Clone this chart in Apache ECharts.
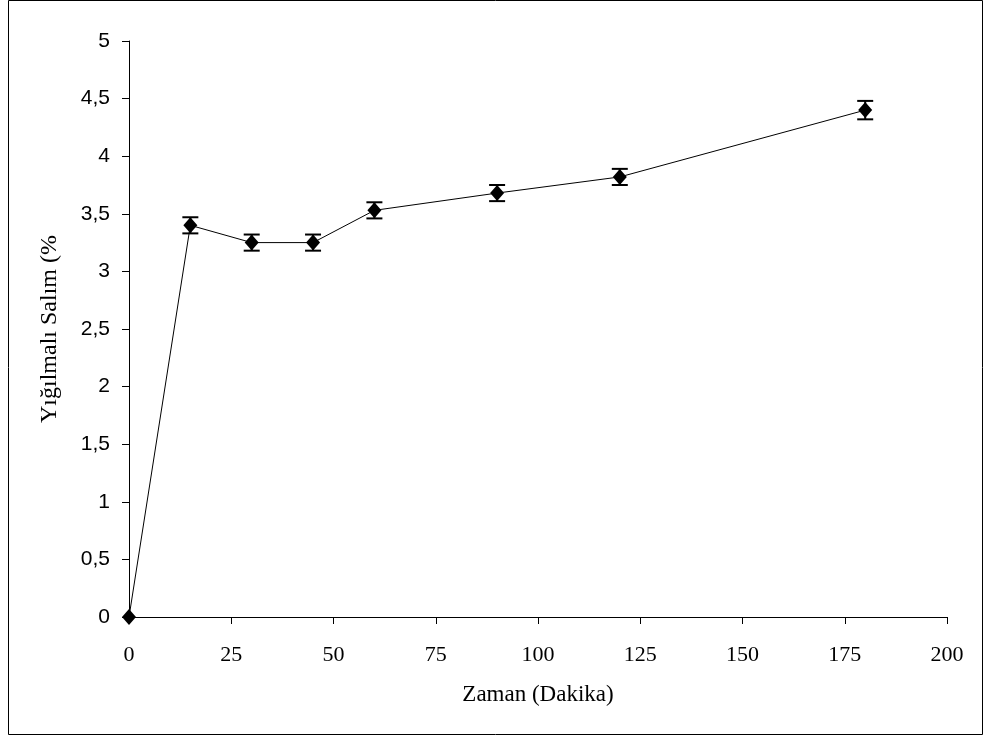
<!DOCTYPE html>
<html><head><meta charset="utf-8">
<script src="https://cdn.jsdelivr.net/npm/echarts@6/dist/echarts.min.js"></script>
<style>html,body{margin:0;padding:0;background:#fff}#c{width:984px;height:736px}</style>
</head><body><div id="c"></div>
<script>
const times = [0, 15, 30, 45, 60, 90, 120, 180];
const release = [0, 3.40, 3.25, 3.25, 3.53, 3.68, 3.82, 4.40];
const errors = [0, 0.07, 0.07, 0.07, 0.07, 0.07, 0.07, 0.08];
const xTitle = 'Zaman (Dakika)';
const yTitle = 'Yığılmalı Salım (%';

const lineData = times.map((t, i) => [t, release[i]]);
const errData = times.map((t, i) => [t, release[i] - errors[i], release[i] + errors[i]]);

const chart = echarts.init(document.getElementById('c'));
chart.setOption({
  animation: false,
  grid: {left: 129, right: 37, top: 41, bottom: 119},
  graphic: [{type: 'rect', shape: {x: 8.5, y: 0.5, width: 974, height: 734}, style: {fill: null, stroke: '#000', lineWidth: 1}, silent: true}],
  xAxis: {
    type: 'value', min: 0, max: 200, interval: 25,
    name: xTitle, nameLocation: 'middle', nameGap: 66,
    nameTextStyle: {fontFamily: 'Liberation Serif', fontSize: 23, color: '#000'},
    axisLine: {lineStyle: {color: '#000', width: 1}},
    axisTick: {show: true, length: 7, lineStyle: {color: '#000'}},
    axisLabel: {fontFamily: 'Liberation Serif', fontSize: 22, color: '#000', margin: 27},
    splitLine: {show: false}
  },
  yAxis: {
    type: 'value', min: 0, max: 5, interval: 0.5,
    name: yTitle, nameLocation: 'middle', nameGap: 67, nameRotate: 90,
    nameTextStyle: {fontFamily: 'Liberation Serif', fontSize: 24, color: '#000'},
    axisLine: {show: true, lineStyle: {color: '#000', width: 1}},
    axisTick: {show: true, length: 7, lineStyle: {color: '#000'}},
    axisLabel: {fontFamily: 'Liberation Sans', fontSize: 21, color: '#000', margin: 19,
      formatter: v => String(v).replace('.', ',')},
    splitLine: {show: false}
  },
  series: [
    {
      type: 'line', data: lineData, symbol: 'diamond', symbolSize: [14, 16],
      lineStyle: {color: '#000', width: 1}, itemStyle: {color: '#000'}, z: 3
    },
    {
      type: 'custom', data: errData.slice(1), z: 4,
      renderItem: function (params, api) {
        const x = api.value(0);
        const lo = api.coord([x, api.value(1)]);
        const hi = api.coord([x, api.value(2)]);
        const hw = 8;
        return {type: 'group', children: [
          {type: 'line', shape: {x1: lo[0], y1: lo[1], x2: hi[0], y2: hi[1]}, style: {stroke: '#000', lineWidth: 2}},
          {type: 'line', shape: {x1: lo[0] - hw, y1: lo[1], x2: lo[0] + hw, y2: lo[1]}, style: {stroke: '#000', lineWidth: 2}},
          {type: 'line', shape: {x1: hi[0] - hw, y1: hi[1], x2: hi[0] + hw, y2: hi[1]}, style: {stroke: '#000', lineWidth: 2}}
        ]};
      }
    }
  ]
});
</script></body></html>
